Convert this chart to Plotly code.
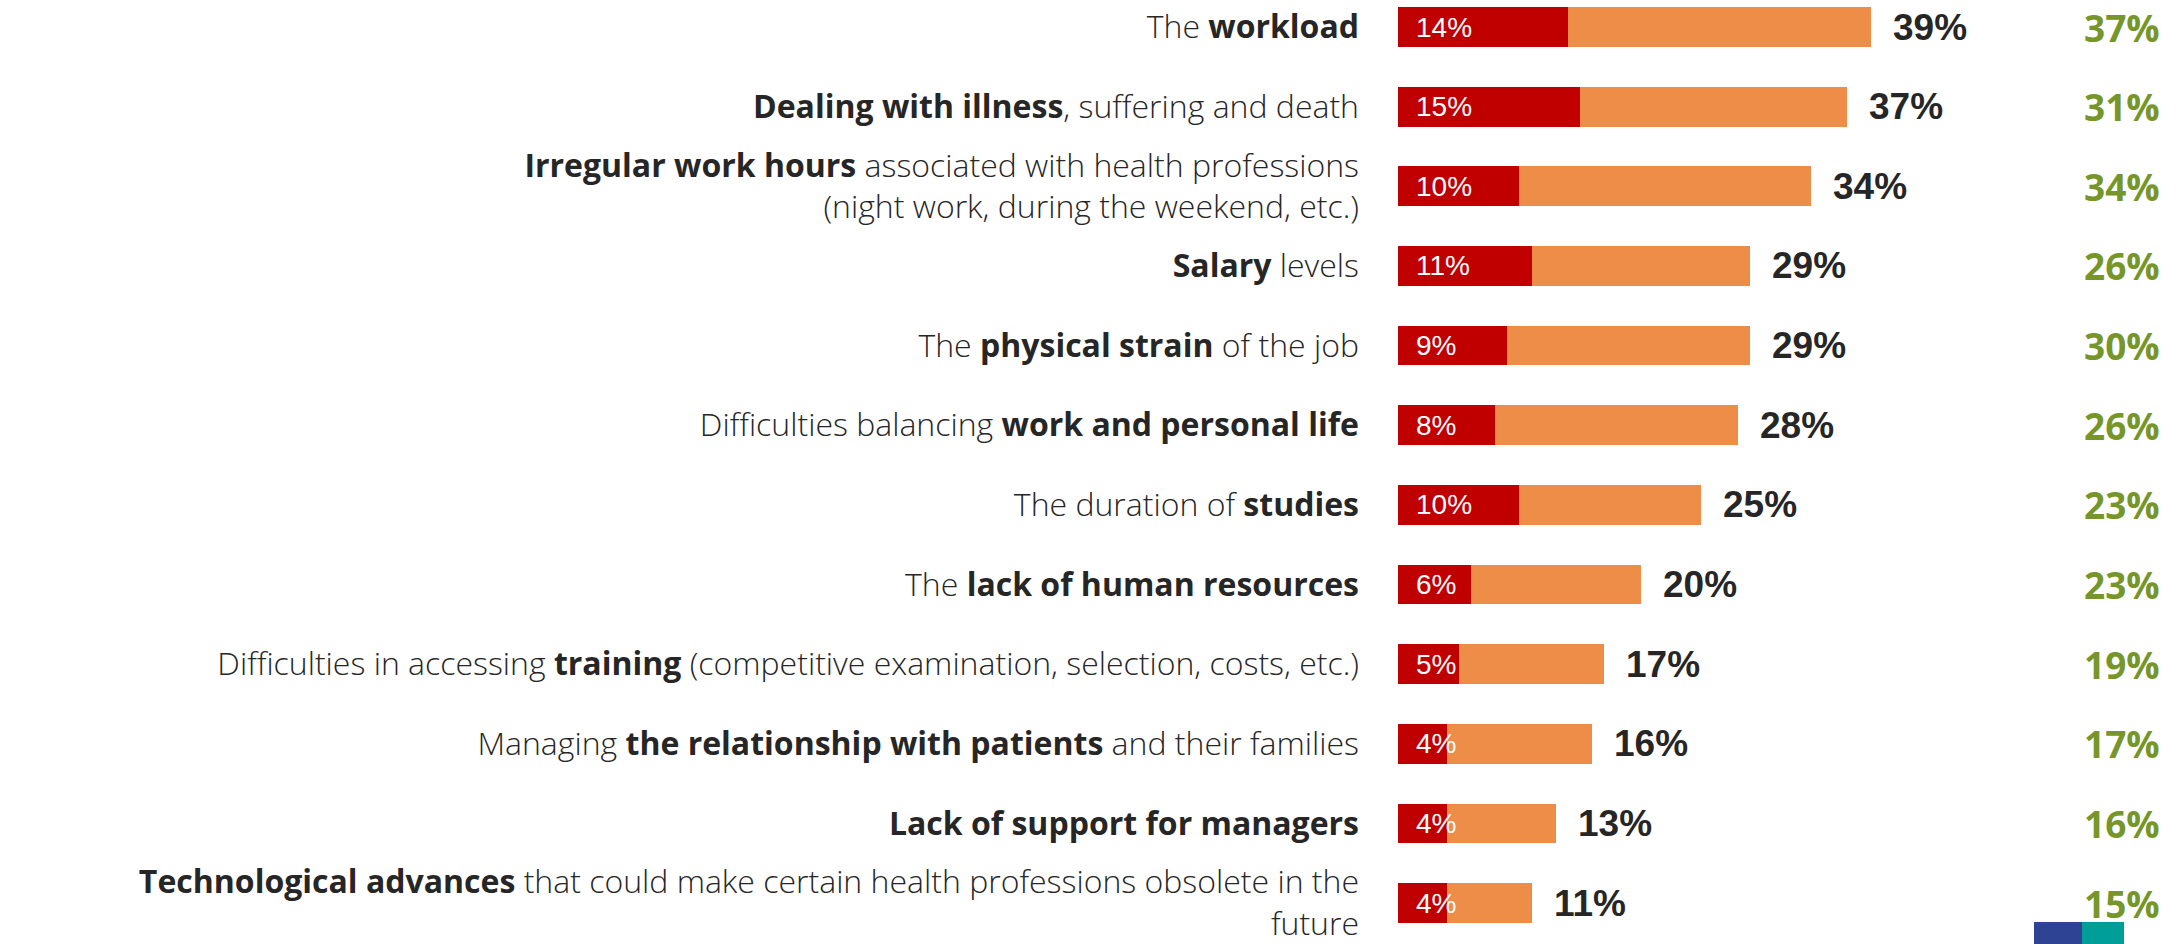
import plotly.graph_objects as go

categories = [
    "The <b>workload</b>",
    "<b>Dealing with illness</b>, suffering and death",
    "<b>Irregular work hours</b> associated with health professions<br>(night work, during the weekend, etc.)",
    "<b>Salary</b> levels",
    "The <b>physical strain</b> of the job",
    "Difficulties balancing <b>work and personal life</b>",
    "The duration of <b>studies</b>",
    "The <b>lack of human resources</b>",
    "Difficulties in accessing <b>training</b> (competitive examination, selection, costs, etc.)",
    "Managing <b>the relationship with patients</b> and their families",
    "<b>Lack of support for managers</b>",
    "<b>Technological advances</b> that could make certain health professions obsolete in the<br>future",
]
first_rank = [14, 15, 10, 11, 9, 8, 10, 6, 5, 4, 4, 4]
total = [39, 37, 34, 29, 29, 28, 25, 20, 17, 16, 13, 11]
comparison = [37, 31, 34, 26, 30, 26, 23, 23, 19, 17, 16, 15]

RED = "#C00000"
ORANGE = "#ED8D47"
GREEN = "#76962A"
DARK = "#262626"

rest = [t - f for t, f in zip(total, first_rank)]

fig = go.Figure()
fig.add_trace(go.Bar(y=categories, x=first_rank, orientation="h",
                     marker=dict(color=RED, line=dict(width=0)), width=0.5,
                     hoverinfo="skip"))
fig.add_trace(go.Bar(y=categories, x=rest, orientation="h",
                     marker=dict(color=ORANGE, line=dict(width=0)), width=0.5,
                     hoverinfo="skip"))

annotations = []
for cat, f, t, c in zip(categories, first_rank, total, comparison):
    annotations.append(dict(x=0, y=cat, xref="x", yref="y", text=f"{f}%",
                            showarrow=False, xanchor="left", xshift=16,
                            font=dict(family="Liberation Sans, Arial", size=28, color="white")))
    annotations.append(dict(x=t, y=cat, xref="x", yref="y", text=f"<b>{t}%</b>",
                            showarrow=False, xanchor="left", xshift=20,
                            font=dict(family="Liberation Sans, Arial", size=37, color=DARK)))
    annotations.append(dict(x=1, y=cat, xref="paper", yref="y", text=f"<b>{c}%</b>",
                            showarrow=False, xanchor="right", xshift=-15,
                            font=dict(family="Open Sans", size=37, color=GREEN)))

fig.update_layout(
    width=2177, height=944,
    margin=dict(l=1398, r=0, t=0, b=0),
    paper_bgcolor="white", plot_bgcolor="white",
    barmode="stack", showlegend=False,
    annotations=annotations,
    xaxis=dict(range=[0, 64.17], visible=False, fixedrange=True),
    yaxis=dict(range=[11.514, -0.339], showgrid=False, zeroline=False,
               ticks="", ticklabelstandoff=38, fixedrange=True,
               tickfont=dict(family="Open Sans", size=32, color=DARK, weight=300)),
    shapes=[
        dict(type="rect", xref="paper", yref="paper", x0=(2034-1398)/779, x1=(2082-1398)/779,
             y0=0, y1=22/944, fillcolor="#2E4394", line=dict(width=0), layer="above"),
        dict(type="rect", xref="paper", yref="paper", x0=(2082-1398)/779, x1=(2124-1398)/779,
             y0=0, y1=22/944, fillcolor="#009E99", line=dict(width=0), layer="above"),
    ],
)

fig.write_html("out.html", config={"displayModeBar": False},
               post_script="document.body.style.margin='0';document.body.style.overflow='hidden';")
